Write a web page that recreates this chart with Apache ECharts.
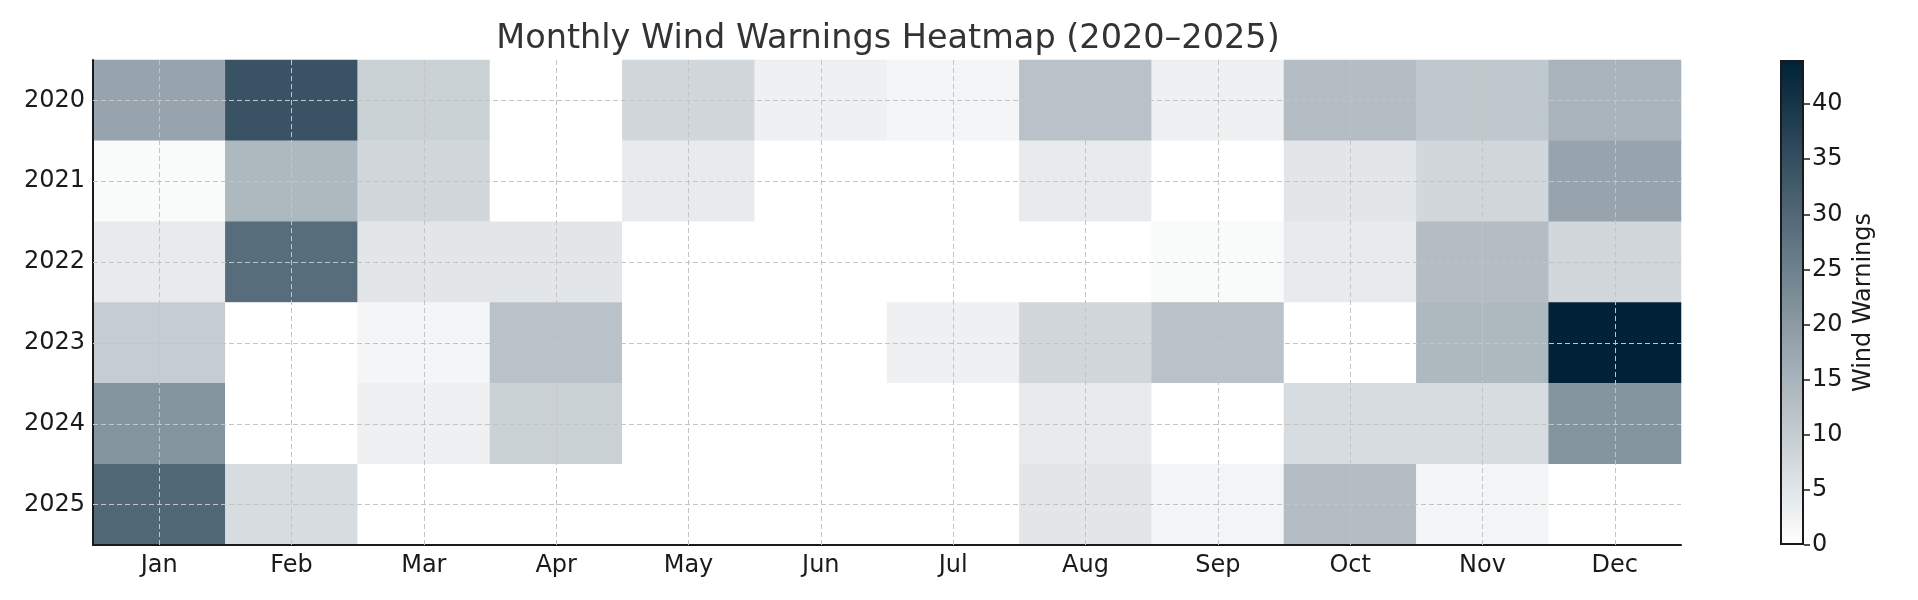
<!DOCTYPE html>
<html>
<head>
<meta charset="utf-8">
<script src="https://cdn.jsdelivr.net/npm/echarts@6/dist/echarts.min.js"></script>
<style>
  html, body { margin: 0; padding: 0; background: #fff; }
  #chart { width: 1918px; height: 600px; }
</style>
</head>
<body>
<div id="chart"></div>
<script>
// monthly counts
const months = ['Jan', 'Feb', 'Mar', 'Apr', 'May', 'Jun', 'Jul', 'Aug', 'Sep', 'Oct', 'Nov', 'Dec'];
const years = ['2020', '2021', '2022', '2023', '2024', '2025'];
const w2020 = [18, 34, 9, 0, 8, 3, 2, 12, 3, 13, 11, 15];
const w2021 = [1, 14, 8, 0, 4, 0, 0, 4, 0, 5, 8, 18];
const w2022 = [4, 29, 5, 5, 0, 0, 0, 0, 1, 4, 13, 8];
const w2023 = [10, 0, 2, 12, 0, 0, 3, 8, 12, 0, 14, 44];
const w2024 = [21, 0, 3, 9, 0, 0, 0, 4, 0, 7, 7, 21];
const w2025 = [30, 7, 0, 0, 0, 0, 0, 5, 2, 13, 2, 0];
const cbMax = 44;
const cbTicks = [0, 5, 10, 15, 20, 25, 30, 35, 40];

const rows = [w2020, w2021, w2022, w2023, w2024, w2025];
let cells = [];
rows.forEach((r, yi) => {
  r.forEach((v, xi) => { cells.push([xi, yi, v]); });
});

const font = 'DejaVu Sans';
const ink = '#1a1a1a';
const light = '#ffffff', dark = '#002137';

let chart = echarts.init(document.getElementById('chart'));

let gridLines = months.map(m => ({ xAxis: m })).concat(years.map(y => ({ yAxis: y })));

let option = {
  animation: false,
  textStyle: { fontFamily: font },
  title: {
    text: 'Monthly Wind Warnings Heatmap (2020–2025)',
    left: 883,
    top: 17,
    textAlign: 'center',
    textStyle: { fontFamily: font, fontSize: 33.5, fontWeight: 'normal', color: '#333' }
  },
  grid: [
    { left: 93, top: 60, width: 1588, height: 485 },
    { left: 1780, top: 60, width: 24, height: 485 }
  ],
  xAxis: [
    {
      type: 'category', gridIndex: 0, data: months, z: 4,
      axisLine: { lineStyle: { color: ink, width: 2 } },
      axisTick: { inside: true, length: 6, alignWithLabel: true, lineStyle: { color: ink, width: 1.5 } },
      axisLabel: { fontSize: 24, color: ink, margin: 9, fontFamily: font },
      splitLine: { show: false }
    },
    {
      type: 'category', gridIndex: 1, data: [''],
      show: false
    }
  ],
  yAxis: [
    {
      type: 'category', gridIndex: 0, data: years, inverse: true, z: 4,
      axisLine: { lineStyle: { color: ink, width: 2 } },
      axisTick: { length: 6, alignWithLabel: true, lineStyle: { color: ink, width: 1.5 } },
      axisLabel: { fontSize: 24, color: ink, margin: 8, fontFamily: font, padding: [6, 0, 0, 0] },
      splitLine: { show: false }
    },
    {
      type: 'value', gridIndex: 1, min: 0, max: cbMax, interval: 5, position: 'right', z: 4,
      axisLine: { show: false },
      axisTick: { show: true, length: 6, customValues: cbTicks, lineStyle: { color: ink, width: 1.5 } },
      axisLabel: { fontSize: 24, color: ink, margin: 8, customValues: cbTicks, fontFamily: font, padding: [8, 0, 0, 0] },
      splitLine: { show: false },
      name: 'Wind Warnings',
      nameLocation: 'middle',
      nameGap: 48,
      nameTextStyle: { fontSize: 24, color: ink, fontFamily: font }
    }
  ],
  visualMap: {
    show: false,
    type: 'continuous',
    seriesIndex: 0,
    min: 0,
    max: cbMax,
    inRange: { color: [light, dark] }
  },
  series: [
    {
      type: 'heatmap',
      xAxisIndex: 0, yAxisIndex: 0,
      data: cells,
      itemStyle: { borderWidth: 0 },
      emphasis: { disabled: true },
      markLine: {
        silent: true,
        symbol: 'none',
        label: { show: false },
        lineStyle: { color: '#c4c4c4', type: [5, 3], width: 1 },
        data: gridLines
      }
    },
    {
      // colour bar
      type: 'bar',
      xAxisIndex: 1, yAxisIndex: 1,
      data: [cbMax],
      barWidth: '100%',
      silent: true,
      itemStyle: {
        borderColor: ink,
        borderWidth: 2,
        color: {
          type: 'linear', x: 0, y: 0, x2: 0, y2: 1,
          colorStops: [{ offset: 0, color: dark }, { offset: 1, color: light }]
        }
      }
    }
  ]
};

chart.setOption(option);
</script>
</body>
</html>
